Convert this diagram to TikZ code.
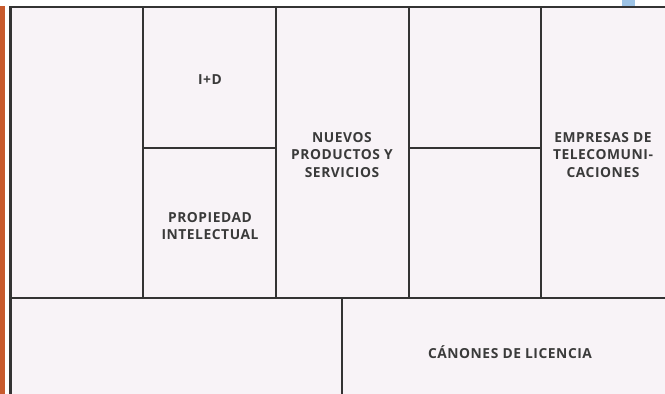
\documentclass[tikz,border=0pt]{standalone}
\usepackage{fontspec}
\setmainfont{Open Sans}[LetterSpace=4]
\definecolor{orangebar}{HTML}{C85A2D}
\definecolor{bluetab}{HTML}{9DC3E6}
\definecolor{cellfill}{HTML}{F8F3F7}
\definecolor{linegray}{HTML}{333333}
\definecolor{textgray}{HTML}{3A3A3A}
\begin{document}
\begin{tikzpicture}[x=1pt,y=-1pt,
  lbl/.style={font=\bfseries\fontsize{13.8}{17.5}\selectfont, text=textgray, align=center, inner sep=0pt},
  grid/.style={draw=linegray, line width=1.3pt},
  frame/.style={draw=linegray, line width=2.6pt}]
\useasboundingbox (0,0) rectangle (665,394);
\fill[white] (0,0) rectangle (665,394);
\fill[orangebar] (0,6) rectangle (4.5,394);
\fill[bluetab] (622,0) rectangle (635,6);
\fill[cellfill] (10,7) rectangle (665,394);
% grid
\draw[grid] (143,7) -- (143,298);
\draw[grid] (276,7) -- (276,298);
\draw[grid] (409,7) -- (409,298);
\draw[grid] (541,7) -- (541,298);
\draw[grid] (143,148) -- (276,148);
\draw[grid] (409,148) -- (541,148);
\draw[grid] (10,298) -- (665,298);
\draw[grid] (342,298) -- (342,394);
% frame
\draw[frame] (665,7) -- (10.3,7) -- (10.3,394);
% labels
\node[lbl] (id) at (210,80) {I+D};
\node[lbl] (pi) at (210,226) {PROPIEDAD\\INTELECTUAL};
\node[lbl] (nps) at (342,155) {NUEVOS\\PRODUCTOS Y\\SERVICIOS};
\node[lbl] (etel) at (603,155) {EMPRESAS DE\\TELECOMUNI-\\CACIONES};
\node[lbl] (cl) at (510,352) {CÁNONES DE LICENCIA};
\end{tikzpicture}
\end{document}
